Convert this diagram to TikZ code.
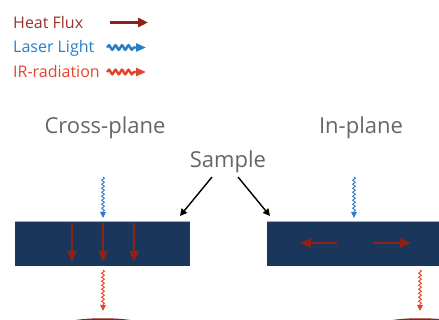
\documentclass[tikz,border=0pt]{standalone}
\usepackage{fontspec}
\setmainfont{Open Sans}
\usetikzlibrary{arrows.meta,decorations.pathmorphing}
\definecolor{heatred}{HTML}{8E2216}
\definecolor{heattxt}{HTML}{9A3326}
\definecolor{laserblue}{HTML}{2B7CC6}
\definecolor{irred}{HTML}{E5432A}
\definecolor{navy}{HTML}{1A365B}
\definecolor{graytxt}{HTML}{666666}
\tikzset{
  legtext/.style={anchor=base west, font=\fontsize{16}{18}\selectfont, inner sep=0pt},
  headtext/.style={anchor=base, font=\fontsize{22}{24}\selectfont, text=graytxt, inner sep=0pt},
  bar/.style={fill=navy, draw=none},
  heatarrow/.style={draw=heatred, line width=2.8pt, -{Triangle[length=11pt,width=9pt]}},
  legheat/.style={draw=heatred, line width=2.6pt, -{Triangle[length=10pt,width=9pt]}},
  wavy/.style={decorate, decoration={snake, amplitude=1.4pt, segment length=4pt, post length=6pt}, line width=0.9pt},
  legwavy/.style={decorate, decoration={snake, amplitude=2.2pt, segment length=6.5pt, post length=10pt}, line width=2.4pt},
  smalltip/.style={-{Triangle[length=6pt,width=5.5pt]}},
  bigtip/.style={-{Triangle[length=10pt,width=8pt]}},
  samplearrow/.style={draw=black, line width=1.4pt, -{Triangle[length=7pt,width=7pt]}},
  detector/.style={draw=heatred, line width=1.5pt}
}
\begin{document}
\begin{tikzpicture}[x=1pt,y=-1pt]
\useasboundingbox (0,0) rectangle (439,320);
% legend
\node[legtext, text=heattxt] (lh) at (13,29) {Heat Flux};
\node[legtext, text=laserblue] (ll) at (13,53) {Laser Light};
\node[legtext, text=irred] (li) at (13,78) {IR-radiation};
\coordinate (lh1) at (110,22.5); \coordinate (lh2) at (148,22.5);
\draw[legheat] (lh1) -- (lh2);
\coordinate (ll1) at (107,47.5); \coordinate (ll2) at (146,47.5);
\draw[legwavy, draw=laserblue, bigtip] (ll1) -- (ll2);
\coordinate (li1) at (107,72); \coordinate (li2) at (146,72);
\draw[legwavy, draw=irred, bigtip] (li1) -- (li2);
% headings
\node[headtext] (cp) at (105,134) {Cross-plane};
\node[headtext] (ip) at (361,134) {In-plane};
\node[headtext] (smp) at (228,168) {Sample};
% bars
\path[bar] (15,221) rectangle (190,266);
\draw[white!60!navy, line width=0.6pt] (15,221.3) -- (190,221.3);
\coordinate (lbar) at (180,216);
\path[bar] (267,221) rectangle (439,266);
\draw[white!60!navy, line width=0.6pt] (267,221.3) -- (439,221.3);
\coordinate (rbar) at (270,216);
% sample arrows
\coordinate (s1) at (212,177); \coordinate (s2) at (238,177);
\draw[samplearrow] (s1) -- (lbar);
\draw[samplearrow] (s2) -- (rbar);
% cross-plane heat arrows
\foreach \x in {72,103,134}{
  \coordinate (ha\x) at (\x,223); \coordinate (hb\x) at (\x,262);
  \draw[heatarrow] (ha\x) -- (hb\x);
}
% in-plane heat arrows
\coordinate (ia1) at (337,243); \coordinate (ia2) at (300,243);
\coordinate (ib1) at (373,243); \coordinate (ib2) at (411,243);
\draw[heatarrow] (ia1) -- (ia2);
\draw[heatarrow] (ib1) -- (ib2);
% laser arrows
\coordinate (la1) at (103,177); \coordinate (la2) at (103,218);
\draw[wavy, draw=laserblue, smalltip] (la1) -- (la2);
\coordinate (lb1) at (354,177); \coordinate (lb2) at (354,218);
\draw[wavy, draw=laserblue, smalltip] (lb1) -- (lb2);
% IR arrows
\coordinate (ra1) at (103,270); \coordinate (ra2) at (103,311);
\draw[wavy, draw=irred, smalltip] (ra1) -- (ra2);
\coordinate (rb1) at (420,270); \coordinate (rb2) at (420,311);
\draw[wavy, draw=irred, smalltip] (rb1) -- (rb2);
% detectors
\draw[detector] (103,325.5) ellipse (40 and 6.5);
\draw[detector] (420,325.5) ellipse (40 and 6.5);
\end{tikzpicture}
\end{document}
